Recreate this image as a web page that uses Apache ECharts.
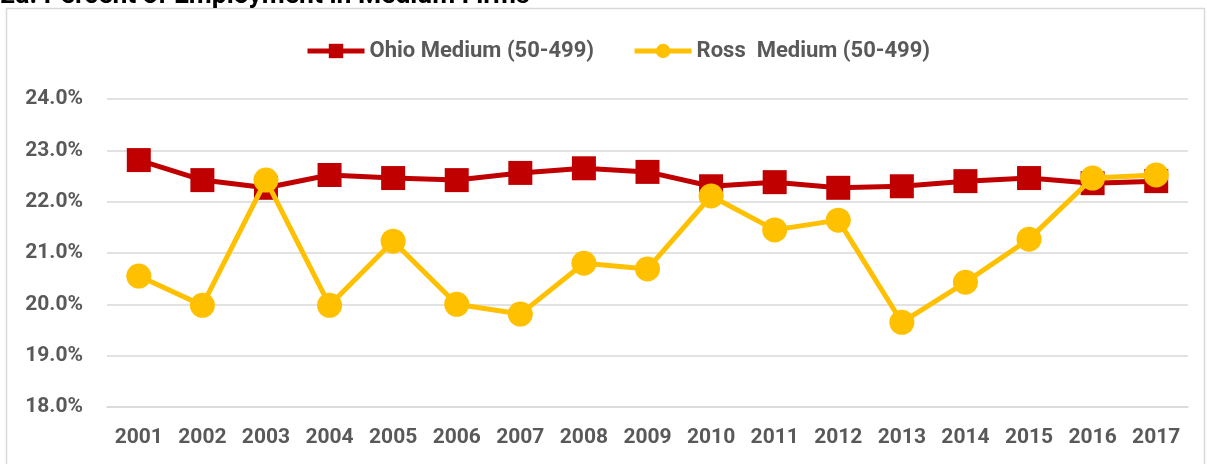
<!DOCTYPE html>
<html>
<head>
<meta charset="utf-8">
<script src="https://cdn.jsdelivr.net/npm/echarts@6/dist/echarts.min.js"></script>
<style>
html,body{margin:0;padding:0;background:#fff;}
#c{width:1207px;height:464px;}
</style>
</head>
<body>
<div id="c"></div>
<script>
const titleText = "2a. Percent of Employment in Medium Firms";
const years = ["2001","2002","2003","2004","2005","2006","2007","2008","2009","2010","2011","2012","2013","2014","2015","2016","2017"];
const ohioName = "Ohio Medium (50-499)";
const rossName = "Ross  Medium (50-499)";
const ohioValues = [22.81,22.42,22.27,22.52,22.46,22.42,22.56,22.65,22.58,22.30,22.38,22.27,22.30,22.40,22.46,22.36,22.40];
const rossValues = [20.55,19.98,22.42,19.98,21.23,20.00,19.81,20.80,20.69,22.11,21.45,21.64,19.65,20.43,21.27,22.46,22.52];
const yMin = 18, yMax = 24, yStep = 1;

const font = "Roboto,'Liberation Sans',sans-serif";
const chart = echarts.init(document.getElementById('c'), null, {renderer:'canvas'});
chart.setOption({
  animation:false,
  backgroundColor:'#fff',
  graphic:[
    {type:'rect', shape:{x:6.5,y:8.5,width:1198,height:470}, style:{fill:'none',stroke:'#d9d9d9',lineWidth:1.5}, z:-1},
    {type:'text', left:0, top:-17, style:{text:titleText, font:"bold 26.5px "+font, fill:'#000'}}
  ],
  legend:{
    top:35, left:300, itemGap:38, itemWidth:57, itemHeight:18,
    lineStyle:{width:5},
    textStyle:{fontFamily:font, fontWeight:'bold', fontSize:22, color:'#595959'},
    data:[ohioName, rossName]
  },
  grid:{left:107, right:19, top:99, bottom:57, containLabel:false},
  xAxis:{
    type:'category', data:years, boundaryGap:true,
    axisLine:{show:true, lineStyle:{color:'#d9d9d9', width:1.5}},
    axisTick:{show:false},
    axisLabel:{fontFamily:font, fontWeight:'bold', fontSize:21, color:'#595959', margin:20}
  },
  yAxis:{
    type:'value', min:yMin, max:yMax, interval:yStep,
    axisLine:{show:false}, axisTick:{show:false},
    splitLine:{lineStyle:{color:'#d9d9d9', width:1.5}},
    axisLabel:{fontFamily:font, fontWeight:'bold', fontSize:21, color:'#595959', margin:24,
      formatter:v=>v.toFixed(1)+'%'}
  },
  series:[
    {name:ohioName, type:'line', data:ohioValues, symbol:'rect', symbolSize:24,
      lineStyle:{color:'#c00000', width:5}, itemStyle:{color:'#c00000'}, z:2},
    {name:rossName, type:'line', data:rossValues, symbol:'circle', symbolSize:25,
      lineStyle:{color:'#ffc000', width:5}, itemStyle:{color:'#ffc000'}, z:3}
  ]
});
</script>
</body>
</html>
